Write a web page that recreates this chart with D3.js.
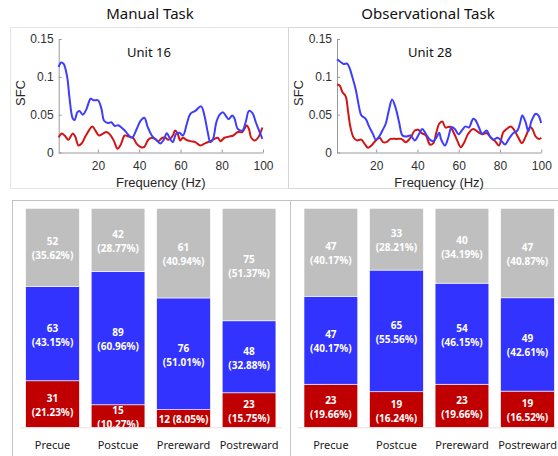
<!DOCTYPE html>
<html>
<head>
<meta charset="utf-8">
<script src="https://cdn.jsdelivr.net/npm/d3@7"></script>
<style>
  body { margin: 0; background: #fff; }
  svg { display: block; }
  .tick text { font-family: "Liberation Sans", Arial, sans-serif; font-size: 12px; fill: #303030; }
  .axis path, .axis line { stroke: #9a9a9a; }
</style>
</head>
<body>
<div id="chart"></div>
<script>
// ---------------------
//   SFC spectra [Hz, SFC]
// ---------------------
const manualBlue = [[1,.113],[2.2,.119],[3.4,.117],[5.1,.100],[6.2,.073],[7.8,.045],[8.7,.043],[10,.053],[11,.055],[12.7,.050],[14.4,.057],[16.5,.071],[18,.069],[20,.069],[21.7,.058],[23,.042],[24.9,.039],[26.5,.040],[28.2,.035],[29.8,.036],[31.4,.033],[33,.029],[35,.0225],[36.6,.0195],[38.8,.031],[40.7,.042],[42.5,.046],[44.1,.034],[46.1,.0225],[48.5,.016],[50.3,.012],[51.7,.016],[53.4,.0256],[54.7,.0195],[56.3,.0137],[57.9,.0248],[59.5,.026],[61.2,.0225],[63.1,.038],[64.8,.051],[67.2,.055],[70,.061],[71.6,.049],[73.2,.027],[74.5,.0137],[75.8,.018],[77.4,.040],[79,.050],[80.7,.053],[82.3,.047],[83.4,.044],[85.1,.049],[86.2,.045],[87.8,.031],[90,.029],[91.6,.040],[93.2,.055],[94.9,.052],[96.5,.040],[98.1,.029],[99.7,.018]];
const manualRed = [[1,.020],[2.5,.025],[4,.022],[5.7,.017],[7.8,.025],[9,.021],[10.6,.0093],[12,.0115],[13.9,.021],[15.6,.029],[17.3,.0345],[18.8,.029],[20.5,.0225],[22.5,.025],[24.1,.027],[25.8,.024],[27.8,.015],[29.5,.005],[31.1,.0106],[33,.0225],[35,.021],[37,.0195],[38.8,.0115],[40.9,.007],[42.5,.0075],[44.4,.0168],[46.1,.0195],[47.7,.018],[49.3,.015],[51.2,.0195],[52.6,.0195],[54.2,.017],[56.3,.0225],[57.4,.029],[58.6,.025],[59.9,.016],[61.2,.0195],[62.8,.0168],[64.8,.015],[67.2,.0137],[69.6,.0093],[72.1,.0124],[74.5,.015],[76.5,.018],[78.1,.0195],[79.4,.015],[81.3,.0195],[83.4,.021],[85.6,.0225],[87.8,.027],[90,.027],[92.1,.036],[93.2,.031],[94.3,.0195],[96,.016],[97.6,.0195],[99.7,.033]];
const obsBlue = [[1,.123],[2.6,.120],[4.1,.117],[5.9,.1176],[7.2,.111],[8.4,.100],[10.1,.083],[11.7,.060],[12.8,.049],[14.9,.0445],[16.5,.0345],[18.5,.024],[19.8,.0168],[21.4,.021],[23,.029],[24.6,.038],[26.2,.0566],[27.7,.070],[29.3,.060],[31.1,.040],[32.7,.0225],[34.5,.021],[36.6,.0225],[38.7,.016],[40.8,.0248],[42.3,.031],[44,.0248],[46,.017],[47.6,.015],[49.2,.020],[50.5,.026],[51.5,.017],[53.3,.0093],[54.9,.0195],[56.5,.0336],[58.1,.031],[59.9,.024],[61.7,.030],[63.3,.0345],[64.9,.033],[67,.0447],[68.1,.043],[69.8,.033],[71.4,.0248],[73.5,.029],[75.2,.021],[76.8,.017],[78.8,.0195],[80.8,.015],[82.4,.0106],[84.3,.018],[86.4,.0256],[88.4,.029],[89.7,.039],[90.8,.049],[92.4,.040],[93.7,.028],[95.3,.042],[97.3,.0513],[98.6,.049],[99.9,.039]];
const obsRed = [[1,.090],[2.3,.0886],[3.6,.080],[5.2,.0743],[6.3,.0557],[7.5,.0336],[9.1,.0195],[10.7,.016],[12.8,.017],[14.4,.0115],[16,.0062],[17.7,.0093],[19.8,.016],[21.7,.0195],[23.3,.0137],[25,.0137],[26.9,.018],[29.8,.018],[32.2,.018],[34.3,.0137],[36.6,.0195],[38.7,.029],[40.4,.030],[42,.0256],[44.1,.0225],[46,.0106],[47.6,.012],[49.2,.027],[50.5,.038],[52,.041],[53.6,.033],[55.7,.034],[57.8,.0248],[59.4,.015],[61,.007],[62.7,.0137],[64.6,.0248],[67,.031],[69.4,.027],[71.4,.024],[73.5,.0256],[75.6,.0195],[77.6,.015],[79.5,.0093],[81.6,.027],[83.2,.031],[85.3,.0345],[87,.029],[88.9,.0195],[90.6,.0124],[92.4,.021],[94.6,.0336],[95.7,.031],[97.3,.021],[99,.018],[100,.0195]];

const freqTicks = [20, 40, 60, 80, 100];
const sfcTicks = [0, 0.05, 0.1, 0.15];

// ---------------------
//   Unit counts per epoch
// ---------------------
const categories = ["Precue", "Postcue", "Prereward", "Postreward"];
const manualRedCounts = [31, 15, 12, 23];
const manualBlueCounts = [63, 89, 76, 48];
const manualGrayCounts = [52, 42, 61, 75];
const obsRedCounts = [23, 19, 23, 19];
const obsBlueCounts = [47, 65, 54, 49];
const obsGrayCounts = [47, 33, 40, 47];

const BLUE_LINE = "#3d3dff", RED_LINE = "#d01515";
const BLUE_BAR = "#3333ff", RED_BAR = "#c00000", GRAY_BAR = "#bfbfbf";

const width = 558, height = 456;
const svg = d3.select("#chart").append("svg")
    .attr("width", width).attr("height", height);

// panel frames
svg.append("rect").attr("x", 10.5).attr("y", 27.5).attr("width", 278).attr("height", 161)
    .attr("fill", "none").attr("stroke", "#e6e6e6");
svg.append("rect").attr("x", 288.5).attr("y", 27.5).attr("width", 280).attr("height", 161)
    .attr("fill", "none").attr("stroke", "#d6d6d6");
svg.append("rect").attr("x", 12.5).attr("y", 200.5).attr("width", 278).attr("height", 270)
    .attr("fill", "none").attr("stroke", "#c4c4c4");
svg.append("rect").attr("x", 290.5).attr("y", 200.5).attr("width", 280).attr("height", 270)
    .attr("fill", "none").attr("stroke", "#c4c4c4");

function drawSpectrum(cfg) {
    const x = d3.scaleLinear().domain([1, 100]).range([cfg.left, cfg.right]);
    const y = d3.scaleLinear().domain([0, 0.15]).range([152.5, 39]);

    svg.append("text")
        .attr("x", cfg.titleX).attr("y", 18.5)
        .attr("text-anchor", "middle")
        .style("font-family", "'Noto Sans', sans-serif").style("font-size", "15px").style("fill", "#111")
        .text(cfg.title);

    svg.append("g").attr("class", "axis")
        .attr("transform", `translate(0, ${y(0)})`)
        .call(d3.axisBottom(x).tickValues(freqTicks).tickSize(-3).tickSizeOuter(0).tickPadding(9));

    svg.append("g").attr("class", "axis")
        .attr("transform", `translate(${x(1)}, 0)`)
        .call(d3.axisLeft(y).tickValues(sfcTicks).tickSize(-3).tickSizeOuter(0).tickPadding(5)
            .tickFormat(d => d === 0 ? "0" : String(+d.toFixed(2))));

    const line = d3.line()
        .x(d => x(d[0]))
        .y(d => y(d[1]))
        .curve(d3.curveCatmullRom.alpha(0.5));

    svg.append("path").datum(cfg.red)
        .attr("d", line).attr("fill", "none")
        .attr("stroke", RED_LINE).attr("stroke-width", 2).attr("stroke-linejoin", "round");
    svg.append("path").datum(cfg.blue)
        .attr("d", line).attr("fill", "none")
        .attr("stroke", BLUE_LINE).attr("stroke-width", 2).attr("stroke-linejoin", "round");

    svg.append("text")
        .attr("x", cfg.unitX).attr("y", 57)
        .attr("text-anchor", "middle")
        .style("font-family", "'Noto Sans', sans-serif").style("font-size", "13px").style("fill", "#111")
        .text(cfg.unit);

    svg.append("text")
        .attr("transform", `translate(${cfg.sfcX}, 93) rotate(-90)`)
        .attr("text-anchor", "middle")
        .style("font-family", "'Liberation Sans', Arial, sans-serif").style("font-size", "13px").style("fill", "#262626")
        .text("SFC");

    svg.append("text")
        .attr("x", (cfg.left + cfg.right) / 2).attr("y", 186.5)
        .attr("text-anchor", "middle")
        .style("font-family", "'Liberation Sans', Arial, sans-serif").style("font-size", "13px").style("fill", "#262626")
        .text("Frequency (Hz)");
}

drawSpectrum({ title: "Manual Task", titleX: 150, left: 58.7, right: 263, unit: "Unit 16", unitX: 149,
    sfcX: 24.5, blue: manualBlue, red: manualRed });
drawSpectrum({ title: "Observational Task", titleX: 428, left: 337, right: 541.3, unit: "Unit 28", unitX: 430,
    sfcX: 302.5, blue: obsBlue, red: obsRed });

// ---------------------
//   Stacked proportion bars
// ---------------------
let clipId = 0;
function drawBars(cfg) {
    const rows = categories.map((c, i) => ({
        cat: c, red: cfg.red[i], blue: cfg.blue[i], gray: cfg.gray[i],
        total: cfg.red[i] + cfg.blue[i] + cfg.gray[i]
    }));
    const keys = ["red", "blue", "gray"];
    const colors = { red: RED_BAR, blue: BLUE_BAR, gray: GRAY_BAR };
    const series = d3.stack().keys(keys).offset(d3.stackOffsetExpand)(rows);

    const x = d3.scaleBand().domain(categories).range(cfg.range).padding(0.18);
    const y = d3.scaleLinear().domain([0, 1]).range([427.3, 208.3]);

    svg.append("line")
        .attr("x1", x(categories[0]) - 6).attr("x2", x(categories[3]) + x.bandwidth() + 6)
        .attr("y1", 427.8).attr("y2", 427.8)
        .attr("stroke", "#e2e2e2");

    const fmt = d3.format(".2%");
    series.forEach(s => {
        const g = svg.append("g");
        s.forEach(seg => {
            const d = seg.data;
            const x0 = x(d.cat), y0 = y(seg[1]), h = y(seg[0]) - y(seg[1]);
            g.append("rect")
                .attr("x", x0).attr("y", y0).attr("width", x.bandwidth()).attr("height", h)
                .attr("fill", colors[s.key]).attr("stroke", "#fff").attr("stroke-width", 0.6);

            const id = "clip" + (clipId++);
            svg.append("clipPath").attr("id", id).append("rect")
                .attr("x", x0).attr("y", y0).attr("width", x.bandwidth()).attr("height", h);

            const count = d[s.key];
            const pct = "(" + fmt(count / d.total) + ")";
            const cx = x0 + x.bandwidth() / 2, mid = y0 + h / 2;
            const t = g.append("text")
                .attr("clip-path", `url(#${id})`)
                .attr("text-anchor", "middle")
                .style("font-family", "'Noto Sans', sans-serif").style("font-size", "10px")
                .style("font-weight", "bold").style("fill", "#fff");
            if (h < 20) {
                t.append("tspan").attr("x", cx).attr("y", mid + 1).attr("dominant-baseline", "central")
                    .text(count + " " + pct);
            } else {
                t.append("tspan").attr("x", cx).attr("y", mid - 6).attr("dominant-baseline", "central").text(count);
                t.append("tspan").attr("x", cx).attr("y", mid + 8).attr("dominant-baseline", "central").text(pct);
            }
        });
    });

    svg.append("g").selectAll("text")
        .data(categories)
        .join("text")
        .attr("x", d => x(d) + x.bandwidth() / 2)
        .attr("y", 448.5)
        .attr("text-anchor", "middle")
        .style("font-family", "'Noto Sans', sans-serif").style("font-size", "11px").style("fill", "#1a1a1a")
        .text(d => d);
}

drawBars({ range: [13.9, 287.7], red: manualRedCounts, blue: manualBlueCounts, gray: manualGrayCounts });
drawBars({ range: [292.2, 566.2], red: obsRedCounts, blue: obsBlueCounts, gray: obsGrayCounts });
</script>
</body>
</html>
